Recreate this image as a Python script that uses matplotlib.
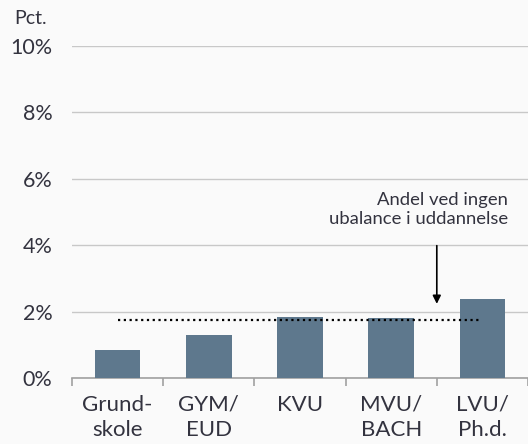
import numpy as np
import matplotlib.pyplot as plt

categories = ["Grund-\nskole", "GYM/\nEUD", "KVU", "MVU/\nBACH", "LVU/\nPh.d."]
shares = [0.84, 1.29, 1.83, 1.81, 2.39]
baseline_share = 1.74
y_ticks = [0, 2, 4, 6, 8, 10]

BAR_COLOR = "#5e788d"
TEXT_COLOR = "#33333f"
GRID_COLOR = "#c8c8c8"
BG = "#fafafa"

plt.rcParams["font.family"] = ["Lato", "DejaVu Sans"]

fig = plt.figure(figsize=(5.28, 4.44), dpi=100, facecolor=BG)
ax = fig.add_axes([72 / 528, 66 / 444, 456 / 528, 332 / 444], facecolor=BG)

x = np.arange(len(categories))
ax.bar(x, shares, width=0.5, color=BAR_COLOR, zorder=3)

# reference line: share without educational mismatch
ax.plot([x[0], x[-1]], [baseline_share] * 2, color="black", lw=1.6,
        linestyle=(0, (1, 1.6)), zorder=4)

ax.annotate("", xy=(3.5, 2.15), xytext=(3.5, 4.07),
            arrowprops=dict(arrowstyle="-|>", color="black", lw=1.2,
                            mutation_scale=12))
ax.text(4.28, 4.55, "Andel ved ingen\nubalance i uddannelse", ha="right",
        va="bottom", fontsize=13.3, color=TEXT_COLOR, linespacing=1.25)

ax.set_xlim(-0.5, 4.5)
ax.set_ylim(0, 10)
ax.set_yticks(y_ticks)
ax.set_yticklabels([f"{v}%" for v in y_ticks])
ax.yaxis.grid(True, color=GRID_COLOR, lw=1, zorder=0)
ax.tick_params(axis="y", length=0, pad=14, labelsize=15.5, labelcolor=TEXT_COLOR)

ax.set_xticks(np.arange(-0.5, 4.6, 1.0))
ax.set_xticklabels([])
ax.set_xticks(x, minor=True)
ax.set_xticklabels(categories, minor=True, linespacing=1.35)
ax.tick_params(axis="x", which="major", length=6, color="#a0a0a0", width=1.2)
ax.tick_params(axis="x", which="minor", length=0, pad=12, labelsize=16,
               labelcolor=TEXT_COLOR)

for s in ["top", "right", "left"]:
    ax.spines[s].set_visible(False)
ax.spines["bottom"].set_color("#a0a0a0")
ax.spines["bottom"].set_linewidth(1.2)

fig.text(14 / 528, 1 - 24 / 444, "Pct.", fontsize=14, color=TEXT_COLOR)

fig.savefig("out.png", dpi=100, facecolor=BG)
